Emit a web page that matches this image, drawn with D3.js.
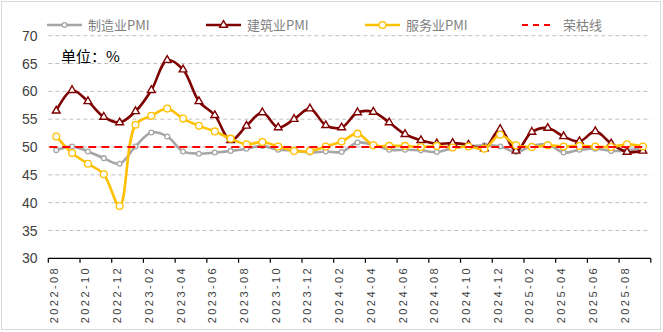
<!DOCTYPE html>
<html><head><meta charset="utf-8">
<script src="https://cdn.jsdelivr.net/npm/d3@7"></script>
<style>
body{margin:0;background:#fff;}
svg{display:block;}
</style></head>
<body><svg id="c" width="663" height="332"></svg>
<script>
const months = ["2022-08","2022-09","2022-10","2022-11","2022-12","2023-01","2023-02","2023-03","2023-04","2023-05","2023-06","2023-07","2023-08","2023-09","2023-10","2023-11","2023-12","2024-01","2024-02","2024-03","2024-04","2024-05","2024-06","2024-07","2024-08","2024-09","2024-10","2024-11","2024-12","2025-01","2025-02","2025-03","2025-04","2025-05","2025-06","2025-07","2025-08","2025-09"];
const manufacturing = [49.4,50.1,49.2,48.0,47.0,50.1,52.6,51.9,49.2,48.8,49.0,49.3,49.7,50.2,49.5,49.4,49.0,49.2,49.1,50.8,50.4,49.5,49.5,49.4,49.1,49.8,50.1,50.3,50.1,49.1,50.2,50.5,49.0,49.5,49.7,49.3,49.4,49.8];
const construction = [56.5,60.2,58.2,55.4,54.4,56.4,60.2,65.6,63.9,58.2,55.7,51.2,53.8,56.2,53.5,55.0,56.9,53.9,53.5,56.2,56.3,54.4,52.3,51.2,50.6,50.7,50.4,49.7,53.2,49.3,52.7,53.4,51.9,51.0,52.8,50.6,49.1,49.3];
const services = [51.9,48.9,47.0,45.1,39.4,54.0,55.6,56.9,55.1,53.8,52.8,51.5,50.5,50.9,50.1,49.3,49.3,50.1,51.0,52.4,50.3,50.2,50.2,50.0,50.2,49.9,50.1,49.7,52.2,50.3,50.0,50.3,50.1,50.2,50.1,50.0,50.5,50.1];
const boomBust = 50;
const yTicks = [30,35,40,45,50,55,60,65,70];
const seriesNames = ["制造业PMI","建筑业PMI","服务业PMI","荣枯线"];
const unitLabel = "单位：%";

const svg = d3.select("#c");
const x = d3.scaleBand().domain(months).range([48.3, 650.8]).paddingInner(0).paddingOuter(0);
const y = d3.scaleLinear().domain([30,70]).range([258.3, 35.7]);
const cx = d => x(d) + x.bandwidth()/2;

// frame
svg.append("rect").attr("x",1.5).attr("y",1.5).attr("width",659).attr("height",328)
  .attr("fill","none").attr("stroke","#d9d9d9").attr("stroke-width",1);

// gridlines
svg.append("g").selectAll("line").data(yTicks.filter(t=>t>30)).join("line")
  .attr("x1",48.3).attr("x2",650.8).attr("y1",d=>y(d)).attr("y2",d=>y(d))
  .attr("stroke","#bfbfbf").attr("stroke-width",1).attr("stroke-dasharray","4,3");

// y labels
svg.append("g").selectAll("text").data(yTicks).join("text")
  .attr("x",37.5).attr("y",d=>y(d)).attr("dy","0.36em").attr("text-anchor","end")
  .attr("font-family","Liberation Sans, Arial, sans-serif").attr("font-size",14)
  .attr("fill","#404040").text(d=>d);

// x axis line
svg.append("line").attr("x1",48.3).attr("x2",650.8).attr("y1",y(30)).attr("y2",y(30))
  .attr("stroke","#000").attr("stroke-width",1.3);
const tickIdx = d3.range(0, months.length+1, 2);
svg.append("g").selectAll("line").data(tickIdx).join("line")
  .attr("x1",i=> i<months.length ? x(months[i]) : x.range()[1])
  .attr("x2",i=> i<months.length ? x(months[i]) : x.range()[1])
  .attr("y1",y(30)).attr("y2",y(30)+4.5).attr("stroke","#000").attr("stroke-width",1.2);

// x labels
const labelMonths = months.filter((m,i)=>i%2===0);
svg.append("g").selectAll("text").data(labelMonths).join("text")
  .attr("transform",d=>`translate(${cx(d)-2.5},266) rotate(-90)`)
  .attr("text-anchor","end").attr("dominant-baseline","central")
  .attr("font-family","Liberation Sans, Arial, sans-serif").attr("font-size",11)
  .attr("letter-spacing","2.4px")
  .attr("fill","#404040").text(d=>d);

// lines
const line = vals => d3.line().x((v,i)=>cx(months[i])).y(v=>y(v)).curve(d3.curveCatmullRom.alpha(0.5))(vals);
const series = [
  {vals:manufacturing, color:"#a6a6a6", marker:"circle", r:2.4},
  {vals:construction, color:"#7f0000", marker:"triangle"},
  {vals:services, color:"#ffc000", marker:"circle", r:3.4}
];
series.forEach(s=>{
  svg.append("path").attr("d",line(s.vals)).attr("fill","none")
    .attr("stroke",s.color).attr("stroke-width",2.6).attr("stroke-linejoin","round");
  const g = svg.append("g");
  if(s.marker==="circle"){
    g.selectAll("circle").data(s.vals).join("circle")
      .attr("cx",(v,i)=>cx(months[i])).attr("cy",v=>y(v)).attr("r",s.r)
      .attr("fill","#fff").attr("stroke",s.color).attr("stroke-width",1.3);
  } else {
    const tri = d3.symbol().type(d3.symbolTriangle).size(26)();
    g.selectAll("path").data(s.vals).join("path")
      .attr("transform",(v,i)=>`translate(${cx(months[i])},${y(v)})`).attr("d",tri)
      .attr("fill","#fff").attr("stroke",s.color).attr("stroke-width",1.4);
  }
});

// boom-bust line
svg.append("line").attr("x1",x(months[0])+1).attr("x2",cx(months[months.length-1])+2)
  .attr("y1",y(boomBust)).attr("y2",y(boomBust))
  .attr("stroke","#ff0000").attr("stroke-width",2).attr("stroke-dasharray","8,5");

// unit label
svg.append("text").attr("x",61).attr("y",62).attr("font-family","Noto Sans CJK SC, sans-serif")
  .attr("font-size",15).attr("fill","#000").text(unitLabel);

// legend
const legX = [47, 206, 365, 522];
const legY = 25;
const lg = svg.append("g");
seriesNames.forEach((name,k)=>{
  const x0 = legX[k];
  if(k<3){
    const s = series[k];
    lg.append("line").attr("x1",x0).attr("x2",x0+35).attr("y1",legY).attr("y2",legY)
      .attr("stroke",s.color).attr("stroke-width",2.6);
    if(s.marker==="circle"){
      lg.append("circle").attr("cx",x0+17.5).attr("cy",legY).attr("r",s.r)
        .attr("fill","#fff").attr("stroke",s.color).attr("stroke-width",1.3);
    } else {
      lg.append("path").attr("transform",`translate(${x0+17.5},${legY})`)
        .attr("d",d3.symbol().type(d3.symbolTriangle).size(26)())
        .attr("fill","#fff").attr("stroke",s.color).attr("stroke-width",1.4);
    }
  } else {
    lg.append("line").attr("x1",x0).attr("x2",x0+31).attr("y1",legY).attr("y2",legY)
      .attr("stroke","#ff0000").attr("stroke-width",2).attr("stroke-dasharray","6,5");
  }
  lg.append("text").attr("x",x0+41).attr("y",legY).attr("dy","0.36em")
    .attr("font-family","Noto Sans CJK SC, sans-serif").attr("font-size",13)
    .attr("fill","#7f7f7f").text(name);
});
</script></body></html>
